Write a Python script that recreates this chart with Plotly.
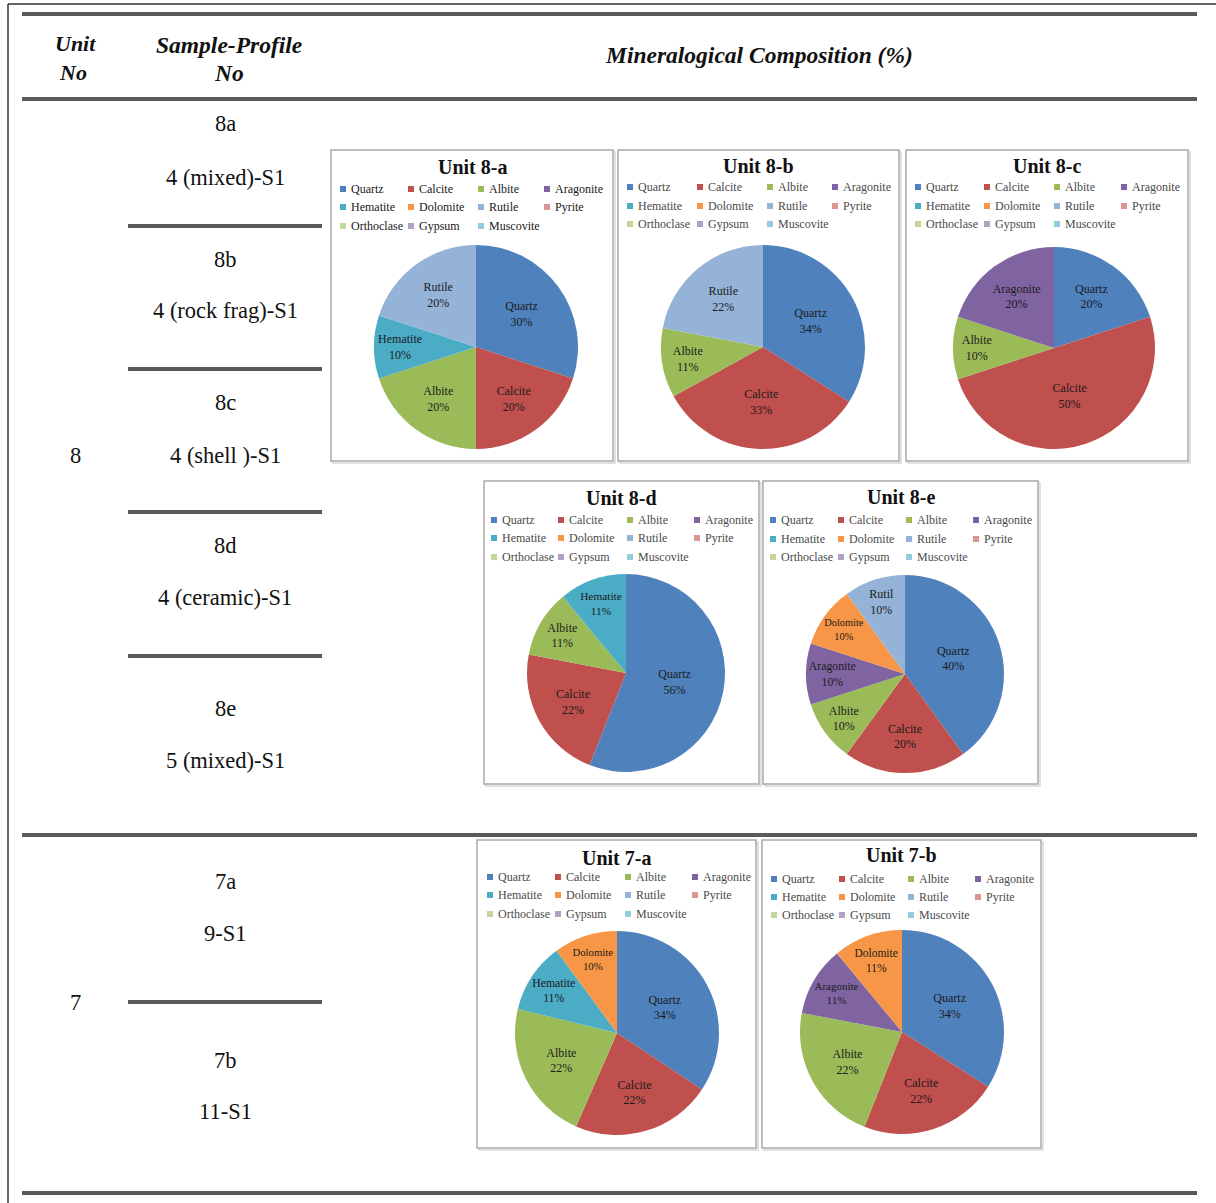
import plotly.graph_objects as go

W, H = 1216, 1203

# ---- data -------------------------------------------------------------
minerals = ["Quartz", "Calcite", "Albite", "Aragonite",
            "Hematite", "Dolomite", "Rutile", "Pyrite",
            "Orthoclase", "Gypsum", "Muscovite"]
mineral_colors = ["#4F81BD", "#C0504D", "#9BBB59", "#8064A2",
                  "#4BACC6", "#F79646", "#95B3D7", "#D99694",
                  "#C3D69B", "#B2A1C7", "#93CDDD"]

unit_8a_labels = ["Quartz", "Calcite", "Albite", "Hematite", "Rutile"]
unit_8a_values = [30, 20, 20, 10, 20]

unit_8b_labels = ["Quartz", "Calcite", "Albite", "Rutile"]
unit_8b_values = [34, 33, 11, 22]

unit_8c_labels = ["Quartz", "Calcite", "Albite", "Aragonite"]
unit_8c_values = [20, 50, 10, 20]

unit_8d_labels = ["Quartz", "Calcite", "Albite", "Hematite"]
unit_8d_values = [56, 22, 11, 11]

unit_8e_labels = ["Quartz", "Calcite", "Albite", "Aragonite", "Dolomite", "Rutil"]
unit_8e_values = [40, 20, 10, 10, 10, 10]

unit_7a_labels = ["Quartz", "Calcite", "Albite", "Hematite", "Dolomite"]
unit_7a_values = [34, 22, 22, 11, 10]

unit_7b_labels = ["Quartz", "Calcite", "Albite", "Aragonite", "Dolomite"]
unit_7b_values = [34, 22, 22, 11, 11]

unit_titles = ["Unit 8-a", "Unit 8-b", "Unit 8-c", "Unit 8-d",
               "Unit 8-e", "Unit 7-a", "Unit 7-b"]

sample_ids = ["8a", "8b", "8c", "8d", "8e", "7a", "7b"]
sample_profiles = ["4 (mixed)-S1", "4 (rock frag)-S1", "4 (shell )-S1",
                   "4 (ceramic)-S1", "5 (mixed)-S1", "9-S1", "11-S1"]
unit_numbers = ["8", "7"]

# ---- layout helpers (pixel -> paper) ----------------------------------
def px(x):
    return x / W


def py(y):
    return 1 - y / H


color_of = dict(zip(minerals, mineral_colors))
color_of["Rutil"] = color_of["Rutile"]

SERIF = "Liberation Serif"

# chart boxes: (left, top, right, bottom), pie centre, radius, title y, legend grid
panels = [
    dict(box=(331, 150, 613, 461), c=(476, 347), r=102, ty=167, lc="#202020",
         lx=[343, 411, 481, 547], ly=[189, 207, 226], lab=unit_8a_labels, val=unit_8a_values),
    dict(box=(618, 150, 899, 461), c=(763, 347), r=102, ty=166, lc="#4a4a4a",
         lx=[630, 700, 770, 835], ly=[187, 206, 224], lab=unit_8b_labels, val=unit_8b_values),
    dict(box=(906, 150, 1188, 461), c=(1054, 348), r=101, ty=166, lc="#4a4a4a",
         lx=[918, 987, 1057, 1124], ly=[187, 206, 224], lab=unit_8c_labels, val=unit_8c_values),
    dict(box=(484, 481, 759, 784), c=(626, 673), r=99, ty=498, lc="#4a4a4a",
         lx=[494, 561, 630, 697], ly=[520, 538, 557], lab=unit_8d_labels, val=unit_8d_values),
    dict(box=(763, 481, 1038, 784), c=(905, 674), r=99, ty=497, lc="#4a4a4a",
         lx=[773, 841, 909, 976], ly=[520, 539, 557], lab=unit_8e_labels, val=unit_8e_values),
    dict(box=(477, 840, 756, 1148), c=(617, 1033), r=102, ty=858, lc="#4a4a4a",
         lx=[490, 558, 628, 695], ly=[877, 895, 914], lab=unit_7a_labels, val=unit_7a_values),
    dict(box=(762, 840, 1041, 1148), c=(902, 1032), r=102, ty=855, lc="#4a4a4a",
         lx=[774, 842, 911, 978], ly=[879, 897, 915], lab=unit_7b_labels, val=unit_7b_values),
]

fig = go.Figure()
shapes = []
annotations = []

for title, p in zip(unit_titles, panels):
    x0, y0, x1, y1 = p["box"]
    # soft shadow + frame of the chart box
    shapes.append(dict(type="rect", xref="paper", yref="paper",
                       x0=px(x0 + 2), x1=px(x1 + 2), y0=py(y1 + 2), y1=py(y0 + 2),
                       line=dict(color="#d8d8d8", width=1.5), layer="below"))
    shapes.append(dict(type="rect", xref="paper", yref="paper",
                       x0=px(x0), x1=px(x1), y0=py(y1), y1=py(y0),
                       line=dict(color="#a9a9a9", width=1.5), fillcolor="white",
                       layer="below"))
    annotations.append(dict(text=f"<b>{title}</b>", x=px((x0 + x1) / 2), y=py(p["ty"]),
                            xref="paper", yref="paper", showarrow=False,
                            xanchor="center", yanchor="middle",
                            font=dict(family=SERIF, size=20, color="#111111")))
    # legend grid: 4 columns x 3 rows
    for i, (name, col) in enumerate(zip(minerals, mineral_colors)):
        cx = p["lx"][i % 4]
        cy = p["ly"][i // 4]
        shapes.append(dict(type="rect", xref="paper", yref="paper",
                           x0=px(cx - 3), x1=px(cx + 3), y0=py(cy + 3), y1=py(cy - 3),
                           line=dict(width=0), fillcolor=col))
        annotations.append(dict(text=name, x=px(cx + 6), y=py(cy), xref="paper",
                                yref="paper", showarrow=False, xanchor="left",
                                yanchor="middle",
                                font=dict(family=SERIF, size=12, color=p["lc"])))
    cxp, cyp = p["c"]
    r = p["r"]
    fig.add_trace(go.Pie(
        labels=p["lab"], values=p["val"],
        text=[f"{l}<br>{v}%" for l, v in zip(p["lab"], p["val"])],
        textinfo="text", textposition="inside",
        insidetextorientation="horizontal",
        textfont=dict(family=SERIF, size=12, color="#1b1b1b"),
        marker=dict(colors=[color_of[l] for l in p["lab"]],
                    line=dict(width=0)),
        sort=False, direction="clockwise", rotation=0,
        hoverinfo="skip", showlegend=False,
        domain=dict(x=[px(cxp - r), px(cxp + r)], y=[py(cyp + r), py(cyp - r)]),
    ))

# ---- table rules ------------------------------------------------------
def hline(y, xa, xb, w=4, color="#5a5a5a"):
    shapes.append(dict(type="line", xref="paper", yref="paper",
                       x0=px(xa), x1=px(xb), y0=py(y), y1=py(y),
                       line=dict(color=color, width=w)))


# outer frame (left and top)
shapes.append(dict(type="line", xref="paper", yref="paper", x0=px(8), x1=px(8),
                   y0=0, y1=py(4), line=dict(color="#333333", width=1.5)))
hline(4, 8, 1216, w=1.5, color="#333333")

for y in (14, 99, 835, 1193):
    hline(y, 22, 1197)
for y in (226, 369, 512, 656, 1002):
    hline(y, 128, 322)

# ---- table text -------------------------------------------------------
def txt(s, x, y, size=22, bold=False, italic=False):
    if bold:
        s = f"<b>{s}</b>"
    if italic:
        s = f"<i>{s}</i>"
    annotations.append(dict(text=s, x=px(x), y=py(y), xref="paper", yref="paper",
                            showarrow=False, xanchor="center", yanchor="middle",
                            font=dict(family=SERIF, size=size, color="#111111")))


txt("Unit", 75, 44, 22, True, True)
txt("No", 73, 73, 22, True, True)
txt("Sample-Profile", 229, 45, 23.5, True, True)
txt("No", 229, 73, 23.5, True, True)
txt("Mineralogical Composition (%)", 759, 55, 23.5, True, True)

id_y = [124, 259, 403, 546, 708, 881, 1060]
prof_y = [177, 311, 455, 597, 760, 933, 1111]
for sid, prof, y1, y2 in zip(sample_ids, sample_profiles, id_y, prof_y):
    txt(sid, 225, y1, 22.5)
    txt(prof, 225, y2, 22.5)

txt(unit_numbers[0], 75, 455, 22.5)
txt(unit_numbers[1], 75, 1002, 22.5)

fig.update_layout(
    width=W, height=H,
    margin=dict(l=0, r=0, t=0, b=0),
    paper_bgcolor="white", plot_bgcolor="white",
    shapes=shapes, annotations=annotations,
)

fig.write_html("out.html")
